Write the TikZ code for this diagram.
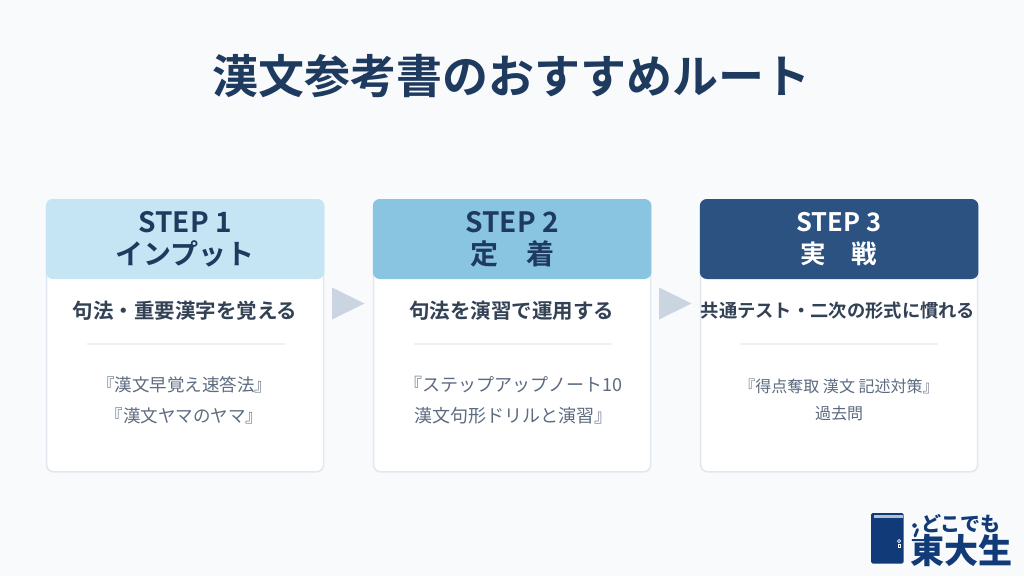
\documentclass[tikz,border=0pt]{standalone}
\usepackage{fontspec}
\setmainfont{Noto Sans CJK JP}[BoldFont={Noto Sans CJK JP Bold}]
\newfontfamily\logofont{Noto Sans CJK JP Black}
\usetikzlibrary{calc}
\definecolor{bgc}{HTML}{F8FAFC}
\definecolor{navy}{HTML}{1E3A5F}
\definecolor{bord}{HTML}{E2E8F0}
\definecolor{subt}{HTML}{334155}
\definecolor{bookt}{HTML}{5C6B7F}
\definecolor{hone}{HTML}{C5E5F4}
\definecolor{htwo}{HTML}{89C4E1}
\definecolor{hthree}{HTML}{2C5282}
\definecolor{arrowc}{HTML}{CBD5E1}
\definecolor{rulec}{HTML}{EDF0F5}
\definecolor{logoc}{HTML}{103A78}
\tikzset{
  x=1pt,y=-1pt,
  cardbox/.style={draw=bord,line width=1.6pt,fill=white,rounded corners=7pt,minimum width=277pt,minimum height=272pt,anchor=north west,inner sep=0pt},
  headtxt/.style={font=\bfseries\fontsize{28}{32}\selectfont,align=center,text=navy,inner sep=0pt},
  subtxt/.style={font=\bfseries\fontsize{20.5}{24}\selectfont,text=subt,inner sep=0pt},
  booktxt/.style={font=\fontsize{18}{31}\selectfont,align=center,text=bookt,inner sep=0pt},
  sep/.style={draw=rulec,line width=1.2pt},
  stepar/.style={fill=arrowc,draw=none},
}
\newcommand{\cardhead}[2]{\fill[#2,rounded corners=7pt] (#1.north west) rectangle ($(#1.north east)+(0,80)$);}
\begin{document}
\begin{tikzpicture}
\useasboundingbox (0,0) rectangle (1024,576);
\fill[bgc] (0,0) rectangle (1024,576);
\node[font=\bfseries\fontsize{46}{50}\selectfont,text=navy,inner sep=0pt] (title) at (511,76) {漢文参考書のおすすめルート};
% cards
\node[cardbox] (c1) at (45.8,199) {};
\node[cardbox] (c2) at (372.8,199) {};
\node[cardbox] (c3) at (699.8,199) {};
\cardhead{c1}{hone}
\cardhead{c2}{htwo}
\cardhead{c3}{hthree}
\node[headtxt] (h1) at (185,239.5) {STEP 1\\インプット};
\node[headtxt] (h2) at (512,239.5) {STEP 2\\定\hspace{1em}着};
\node[headtxt,text=white,font=\bfseries\fontsize{25.5}{32}\selectfont] (h3) at (839,239.5) {STEP 3\\実\hspace{1em}戦};
\node[subtxt] (s1) at (185,311) {句法・重要漢字を覚える};
\node[subtxt] (s2) at (511.5,311) {句法を演習で運用する};
\node[subtxt,font=\bfseries\fontsize{18.3}{22}\selectfont] (s3) at (838,311) {共通テスト・二次の形式に慣れる};
\coordinate (r1a) at (87,344); \coordinate (r1b) at (285,344);
\coordinate (r2a) at (414,344); \coordinate (r2b) at (612,344);
\coordinate (r3a) at (740,344); \coordinate (r3b) at (938,344);
\draw[sep] (r1a) -- (r1b);
\draw[sep] (r2a) -- (r2b);
\draw[sep] (r3a) -- (r3b);
\node[booktxt,font=\fontsize{17.5}{31}\selectfont] (b1) at (184.5,400) {『漢文早覚え速答法』\\『漢文ヤマのヤマ』};
\node[booktxt] (b2) at (513,400) {『ステップアップノート10\\漢文句形ドリルと演習』};
\node[booktxt,font=\fontsize{16}{27}\selectfont] (b3) at (839,400) {『得点奪取 漢文 記述対策』\\過去問};
% arrows
\fill[stepar] (332,287.5) -- (364.5,303.5) -- (332,319.5) -- cycle;
\fill[stepar] (659,287.5) -- (691.5,303.5) -- (659,319.5) -- cycle;
% logo
\fill[logoc,rounded corners=1.5pt] (871,513) rectangle (903.5,563.5);
\fill[bgc!70!logoc] (873.5,515) rectangle (903,517.5);
\draw[white,line width=0.6pt] (899,541) circle (1.6);
\draw[white,line width=0.6pt] (898,544) rectangle (900,547);
\node[font=\logofont\fontsize{20}{20}\selectfont,text=logoc,inner sep=0pt] (l1) at (961,524) {どこでも};
\node[font=\logofont\fontsize{34}{34}\selectfont,text=logoc,inner sep=0pt] (l2) at (961,551) {東大生};
\fill[bgc] (911,527) rectangle (924,539);
\fill[logoc] (914.5,525.5) circle (2.3);
\draw[logoc,line width=2.8pt,line cap=round] (917.5,529.5) -- (915,536);
\end{tikzpicture}
\end{document}
